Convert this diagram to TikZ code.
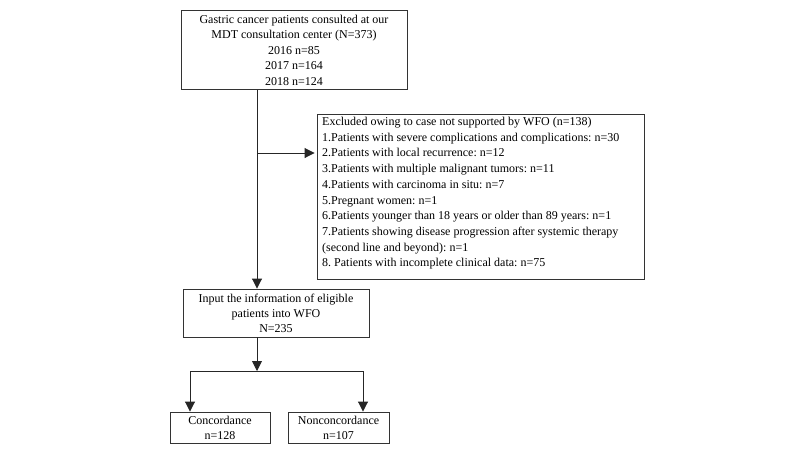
\documentclass[tikz,border=0pt]{standalone}
\usepackage{fontspec}
\setmainfont{Liberation Serif}
\usetikzlibrary{arrows.meta}
\frenchspacing
\begin{document}
\begin{tikzpicture}[x=1pt,y=-1pt,
  box/.style={draw=black!80,line width=0.9pt,inner sep=0pt,font=\fontsize{12}{15.5}\selectfont},
  arr/.style={draw=black!85,line width=0.9pt,-{Triangle[length=10pt,width=10pt]}},
  ln/.style={draw=black!85,line width=0.9pt}]
\useasboundingbox (0,0) rectangle (800,469);
\node[box,minimum width=226pt,minimum height=79pt,align=center] (top) at (294,50)
  {Gastric cancer patients consulted at our\\MDT consultation center (N=373)\\2016 n=85\\2017 n=164\\2018 n=124};
\node[box,minimum width=327pt,minimum height=165pt] (excl) at (480.5,196.5) {};
\node[inner sep=0pt,anchor=north west,align=left,font=\fontsize{12}{15.7}\selectfont] (excltext) at (322,117)
  {Excluded owing to case not supported by WFO (n=138)\\
   1.Patients with severe complications and complications: n=30\\
   2.Patients with local recurrence: n=12\\
   3.Patients with multiple malignant tumors: n=11\\
   4.Patients with carcinoma in situ: n=7\\
   5.Pregnant women: n=1\\
   6.Patients younger than 18 years or older than 89 years: n=1\\
   7.Patients showing disease progression after systemic therapy\\
   (second line and beyond): n=1\\
   8. Patients with incomplete clinical data: n=75};
\node[box,minimum width=186pt,minimum height=48pt,align=center,font=\fontsize{12}{15}\selectfont] (input) at (276,313)
  {Input the information of eligible\\patients into WFO\\N=235};
\node[box,minimum width=100pt,minimum height=31pt,align=center,font=\fontsize{12}{15}\selectfont] (conc) at (220,427.5)
  {Concordance\\n=128};
\node[box,minimum width=101pt,minimum height=31pt,align=center,font=\fontsize{12}{15}\selectfont] (nonc) at (338.5,427.5)
  {Nonconcordance\\n=107};
\coordinate (stem) at (257,153);
\coordinate (junc) at (257,371);
\coordinate (jl) at (190,371);
\coordinate (jr) at (363,371);
\draw[arr] (top.south -| stem) -- (input.north -| stem);
\draw[arr] (stem) -- ([xshift=-2pt]stem -| excl.west);
\draw[arr] (input.south -| junc) -- (junc);
\draw[ln] (jl) -- (jr);
\draw[arr] (jl) -- (jl |- conc.north);
\draw[arr] (jr) -- (jr |- nonc.north);
\end{tikzpicture}
\end{document}
